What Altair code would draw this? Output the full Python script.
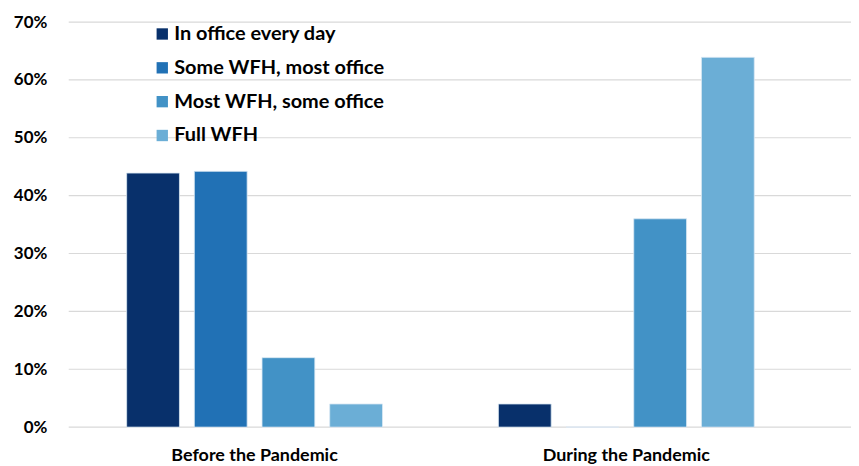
import altair as alt
import pandas as pd

periods = ["Before the Pandemic", "During the Pandemic"]
series = ["In office every day", "Some WFH, most office", "Most WFH, some office", "Full WFH"]
before_vals = [0.439, 0.442, 0.12, 0.04]
during_vals = [0.04, 0.0, 0.36, 0.639]
colors = ["#08306b", "#2171b5", "#4292c6", "#6baed6"]
y_ticks = [0, 0.1, 0.2, 0.3, 0.4, 0.5, 0.6, 0.7]

rows = []
for s, v in zip(series, before_vals):
    rows.append({"period": periods[0], "series": s, "value": v})
for s, v in zip(series, during_vals):
    rows.append({"period": periods[1], "series": s, "value": v})
df = pd.DataFrame(rows)
grid_df = pd.DataFrame({"tick": y_ticks})

FONT = "Lato"
W, H = 786, 407

yscale = alt.Scale(domain=[0, 0.7], nice=False)
yaxis = alt.Axis(format=".0%", values=y_ticks, domain=False, ticks=False,
                 labelFontSize=17, labelFont=FONT, labelFontWeight="bold",
                 labelColor="#000000", labelPadding=22, grid=False)

grid = alt.Chart(grid_df).mark_rule(color="#d9d9d9", strokeWidth=1.2).encode(
    y=alt.Y("tick:Q", scale=yscale, title=None, axis=yaxis),
    x=alt.value(0), x2=alt.value(W),
)

bars = alt.Chart(df).mark_bar(stroke="#dbe8f4", strokeWidth=0.8).encode(
    x=alt.X("period:N", sort=periods, title=None,
            scale=alt.Scale(range=[0, 747], paddingInner=0, paddingOuter=0),
            axis=alt.Axis(labelAngle=0, domain=False, ticks=False, labelFontSize=18,
                          labelFont=FONT, labelFontWeight="bold", labelColor="#000000",
                          labelPadding=20, grid=False)),
    xOffset=alt.XOffset("series:N", sort=series,
                        scale=alt.Scale(paddingInner=0.22, paddingOuter=0.856)),
    y=alt.Y("value:Q", scale=yscale, title=None, axis=yaxis),
    color=alt.Color("series:N", sort=series,
                    scale=alt.Scale(domain=series, range=colors),
                    legend=alt.Legend(title=None, orient="none", legendX=84, legendY=2,
                                      symbolType="square", symbolSize=130,
                                      symbolStrokeWidth=0, labelFontSize=20,
                                      labelFont=FONT, labelFontWeight="bold",
                                      labelColor="#000000", rowPadding=14,
                                      labelOffset=2, labelLimit=400)),
)

chart = alt.layer(grid, bars).properties(
    width=W, height=H,
    autosize=alt.AutoSizeParams(type="none"),
    padding={"left": 61, "top": 13, "right": 0, "bottom": 46},
).configure_view(stroke=None)

chart.save("out.html", embed_options={"renderer": "svg", "actions": False})
